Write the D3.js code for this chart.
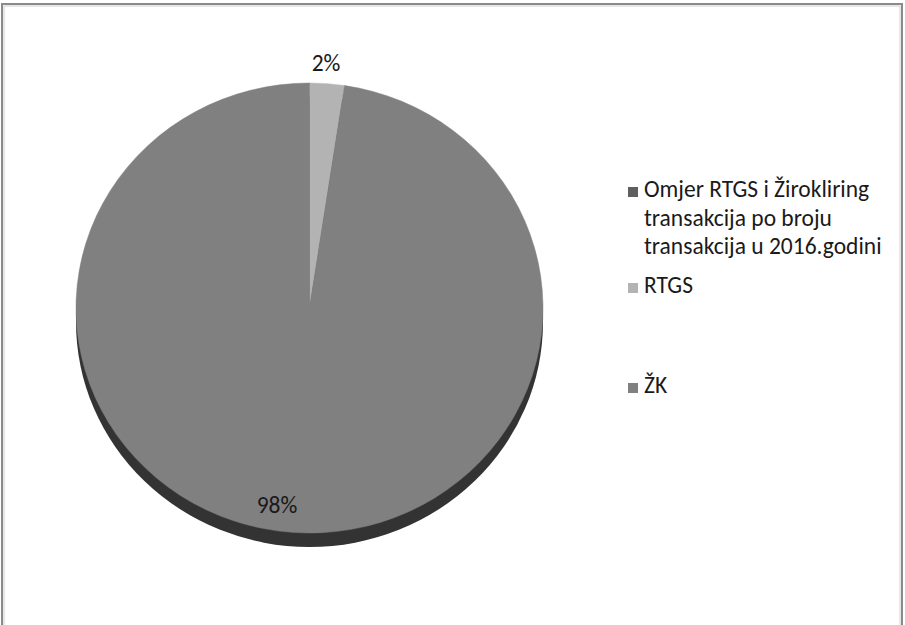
<!DOCTYPE html>
<html><head><meta charset="utf-8">
<script src="https://cdn.jsdelivr.net/npm/d3@7"></script>
<style>body{margin:0;background:#fff}svg{display:block}</style>
</head><body>
<svg id="c" width="905" height="625"></svg>
<script>
const categories = ["RTGS", "ŽK"];
const values = [2.4, 97.6];
const valueLabels = ["2%", "98%"];
const legendItems = [
  ["Omjer RTGS i Žirokliring", "transakcija po broju", "transakcija u 2016.godini"],
  ["RTGS"],
  ["ŽK"]
];
const legendColors = ["#5f5f5f", "#b3b3b3", "#808080"];
const sliceColors = {"RTGS": "#b3b3b3", "ŽK": "#808080"};

const svg = d3.select("#c");
const font = "Carlito, 'Open Sans', 'Noto Sans', sans-serif";

// frame
svg.append("rect").attr("x", 2).attr("y", 4).attr("width", 900).attr("height", 640)
  .attr("fill", "none").attr("stroke", "#8a8a8a").attr("stroke-width", 2);
svg.append("rect").attr("x", 4).attr("y", 6).attr("width", 896).attr("height", 640)
  .attr("fill", "none").attr("stroke", "#d0d0d0").attr("stroke-width", 1);

const cx = 309.5, cy = 308, rx = 233.5, ry = 225, depth = 14;
const sy = ry / rx;

// side (depth)
svg.append("ellipse").attr("cx", cx).attr("cy", cy + depth).attr("rx", rx).attr("ry", ry)
  .attr("fill", "#333333");

const pie = d3.pie().sort(null).value(d => d.v);
const arcs = pie(categories.map((c, i) => ({c, v: values[i], label: valueLabels[i]})));
const arc = d3.arc().innerRadius(0).outerRadius(rx);

const g = svg.append("g").attr("transform", `translate(${cx},${cy}) scale(1,${sy})`);
g.selectAll("path").data(arcs).join("path")
  .attr("d", arc)
  .attr("fill", d => sliceColors[d.data.c])
  .attr("stroke", d => sliceColors[d.data.c]).attr("stroke-width", 0.5);

// value labels
const labelPos = [[326, 71], [277, 513]];
svg.selectAll("text.val").data(arcs).join("text").attr("class", "val")
  .attr("x", (d, i) => labelPos[i][0]).attr("y", (d, i) => labelPos[i][1])
  .attr("text-anchor", "middle").attr("font-family", font).attr("font-size", 23.5)
  .attr("fill", "#1a1a1a").text(d => d.data.label);

// legend
const legendBase = [197, 293, 393];
const lg = svg.append("g");
legendItems.forEach((lines, i) => {
  lg.append("rect").attr("x", 628).attr("y", legendBase[i] - 10).attr("width", 10).attr("height", 10)
    .attr("fill", legendColors[i]);
  lines.forEach((t, j) => {
    lg.append("text").attr("x", 644).attr("y", legendBase[i] + j * 28.5)
      .attr("font-family", font).attr("font-size", 23.5).attr("fill", "#1a1a1a").text(t);
  });
});
</script>
</body></html>
